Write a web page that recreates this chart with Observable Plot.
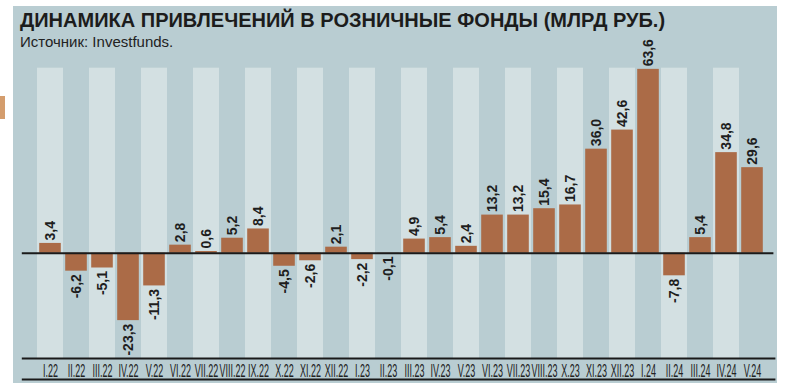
<!DOCTYPE html>
<html>
<head>
<meta charset="utf-8">
<script src="https://cdn.jsdelivr.net/npm/d3@7"></script>
<script src="https://cdn.jsdelivr.net/npm/@observablehq/plot@0.6"></script>
<style>
  body { margin: 0; background: #fff; }
  #wrap { position: relative; width: 800px; height: 386px; overflow: hidden; font-family: "Liberation Sans", Arial, sans-serif; }
  #panel { position: absolute; left: 13px; top: 6px; width: 764px; height: 377px; background: #b9cdd2; }
  #tab { position: absolute; left: 0; top: 96px; width: 5px; height: 23px; background: #d49d6d; }
  #title { position: absolute; left: 20px; top: 10px; font-size: 20px; line-height: 20px; font-weight: bold; color: #1c1c1c; white-space: nowrap; }
  #sub { position: absolute; left: 20px; top: 34px; font-size: 15px; line-height: 15px; color: #222; white-space: nowrap; }
  #chart { position: absolute; left: 0; top: 60px; }
</style>
</head>
<body>
<div id="wrap">
  <div id="panel"></div>
  <div id="tab"></div>
  <div id="title">ДИНАМИКА ПРИВЛЕЧЕНИЙ В РОЗНИЧНЫЕ ФОНДЫ (МЛРД РУБ.)</div>
  <div id="sub">Источник: Investfunds.</div>
  <div id="chart"></div>
</div>
<script>
const months = ["I.22","II.22","III.22","IV.22","V.22","VI.22","VII.22","VIII.22","IX.22","X.22","XI.22","XII.22",
  "I.23","II.23","III.23","IV.23","V.23","VI.23","VII.23","VIII.23","X.23","XI.23","XII.23",
  "I.24","II.24","III.24","IV.24","V.24"];
const inflows = [3.4,-6.2,-5.1,-23.3,-11.3,2.8,0.6,5.2,8.4,-4.5,-2.6,2.1,
  -2.2,-0.1,4.9,5.4,2.4,13.2,13.2,15.4,16.7,36.0,42.6,
  63.6,-7.8,5.4,34.8,29.6];

const data = months.map((m, i) => ({month: m, value: inflows[i]}));
const stripes = months.filter((m, i) => i % 2 === 0);
const fmt = v => v.toFixed(1).replace(".", ",");

const yDomain = [-36.4, 64];
const baseLines = [yDomain[0], -43.7];

const barColor = "#ab6b47";
const ink = "#1a1a1a";

const chart = Plot.plot({
  width: 800,
  height: 326,
  marginLeft: 30.8,
  marginRight: 29.6,
  marginTop: 7.7,
  marginBottom: 28,
  style: {background: "transparent", overflow: "visible"},
  x: {type: "band", domain: months, padding: 0, axis: null},
  y: {domain: yDomain, axis: null},
  marks: [
    Plot.cell(stripes, {x: d => d, fill: "#d3e0e2"}),
    Plot.barY(data, {x: "month", y: "value", fill: barColor, insetLeft: 2.2, insetRight: 2.2}),
    Plot.ruleY([0], {stroke: ink, strokeWidth: 2, insetLeft: -9, insetRight: -3}),
    Plot.ruleY(baseLines, {stroke: ink, strokeWidth: 2, insetLeft: -9, insetRight: -5}),
    Plot.text(data.filter(d => d.value >= 0), {
      x: "month", y: "value", text: d => fmt(d.value), rotate: -90,
      textAnchor: "start", dy: -3, fontSize: 14, fontWeight: "bold", fill: "#1e1e1e"
    }),
    Plot.text(data.filter(d => d.value < 0), {
      x: "month", y: "value", text: d => fmt(d.value), rotate: -90,
      textAnchor: "end", dy: 3, fontSize: 14, fontWeight: "bold", fill: "#1e1e1e"
    }),
    Plot.axisX({tickSize: 0, tickPadding: 6, fontSize: 18, fill: "#222", label: null})
  ]
});
chart.style.fontFamily = '"Liberation Sans", Arial, sans-serif';
document.getElementById("chart").appendChild(chart);

// condense the month labels
chart.querySelectorAll('g[aria-label="x-axis tick label"] text').forEach(t => {
  const tr = t.getAttribute("transform") || "";
  t.setAttribute("transform", tr + " scale(0.5,1)");
});
</script>
</body>
</html>
